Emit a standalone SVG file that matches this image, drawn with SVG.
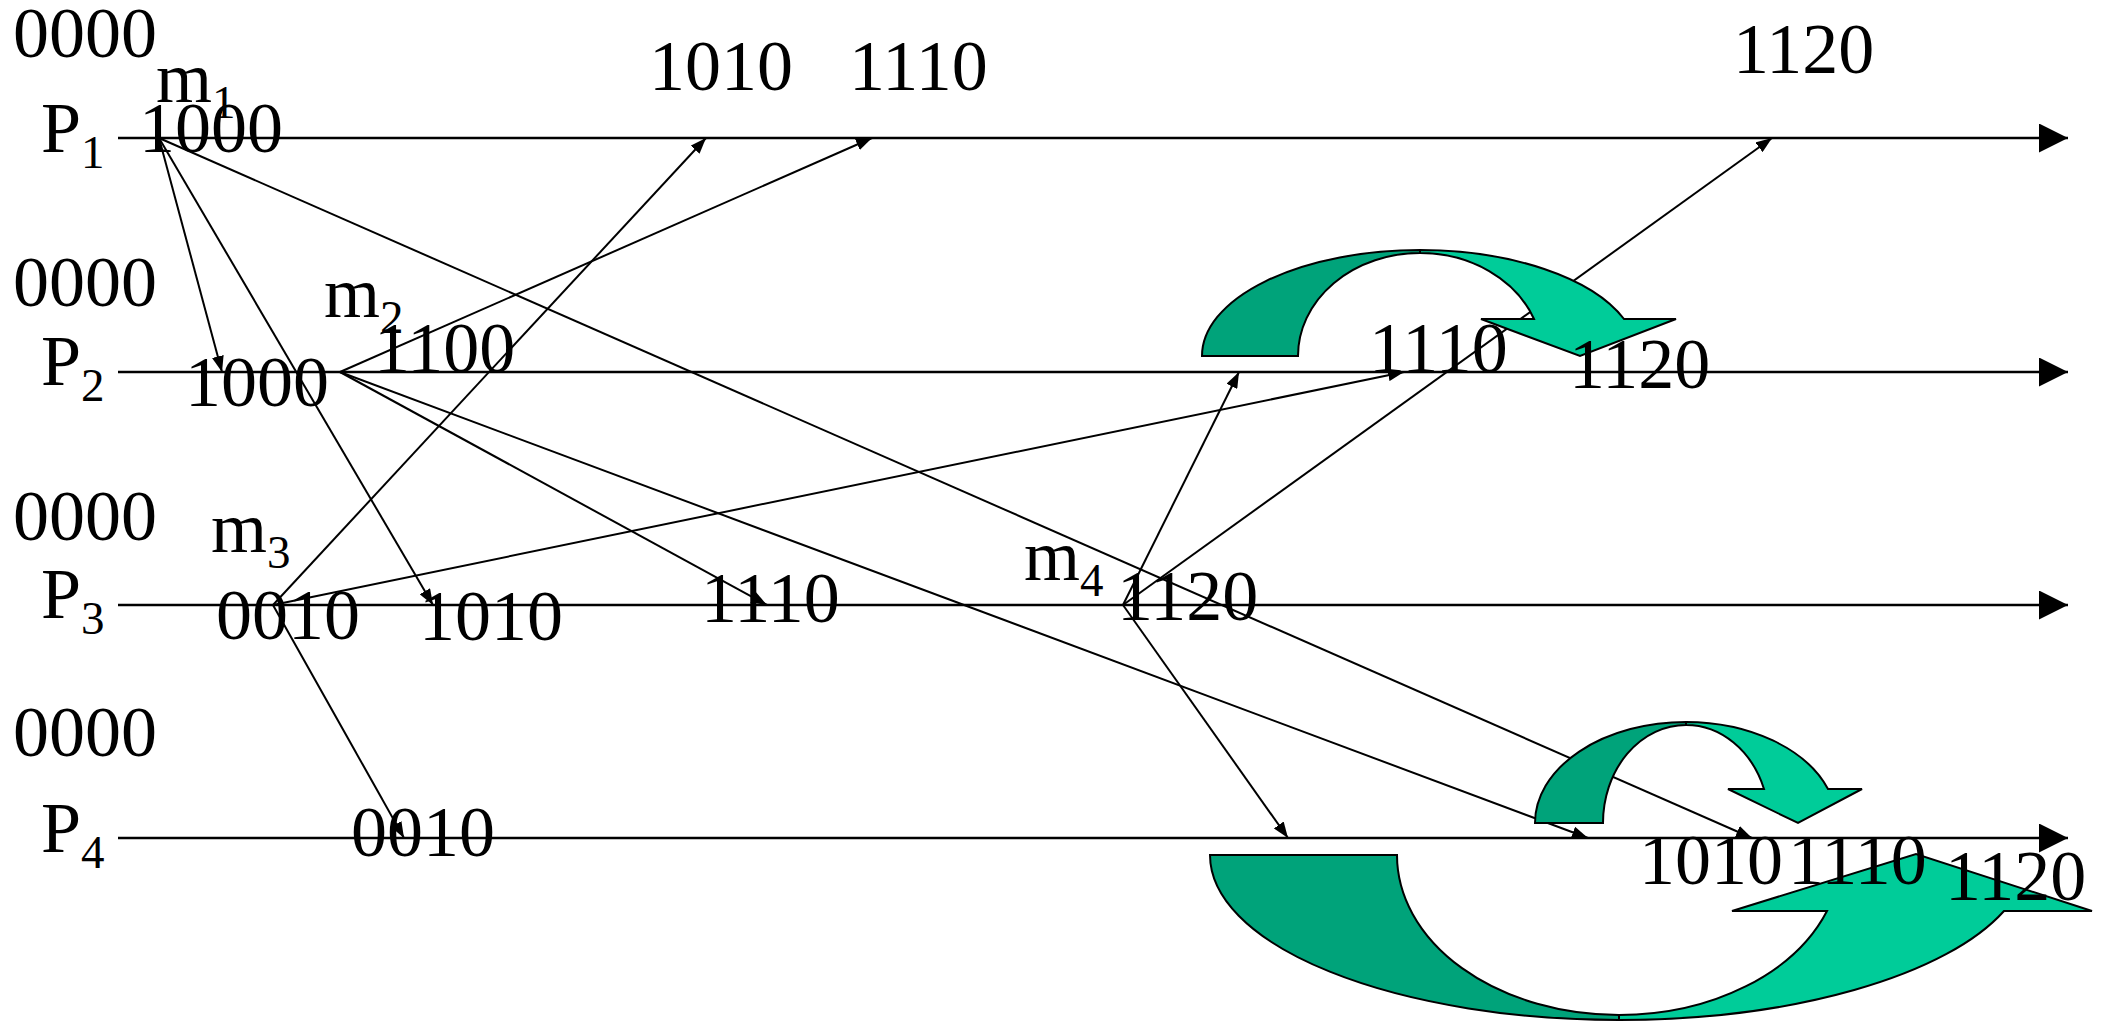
<svg xmlns="http://www.w3.org/2000/svg" width="2107" height="1021" viewBox="0 0 2107 1021">
  <defs>
    <marker id="tl-head" markerUnits="userSpaceOnUse" viewBox="0 0 29 29" markerWidth="29" markerHeight="29" refX="29" refY="14.5" orient="auto">
      <path d="M0,0 L29,14.5 L0,29 Z" fill="#000"/>
    </marker>
    <marker id="msg-head" markerUnits="userSpaceOnUse" viewBox="0 0 16 12" markerWidth="16" markerHeight="12" refX="16" refY="6" orient="auto">
      <path d="M0,0 L16,6 L0,12 Z" fill="#000"/>
    </marker>
    <style>
      .lbl { font-family: "Liberation Serif", "Times New Roman", serif; font-size: 72px; fill: #000; }
      .sub { font-size: 47px; }
      .timeline { stroke: #000; stroke-width: 2.5; fill: none; marker-end: url(#tl-head); }
      .msg { stroke: #000; stroke-width: 2; fill: none; marker-end: url(#msg-head); }
      .band-back { fill: #00A37A; stroke: #000; stroke-width: 2; stroke-linejoin: miter; }
      .band-front { fill: #00CC99; stroke: #000; stroke-width: 2; stroke-linejoin: miter; }
    </style>
  </defs>

  <rect width="2107" height="1021" fill="#fff"/>

  <!-- process timelines -->
  <g id="timelines">
    <line class="timeline" x1="118" y1="138" x2="2068" y2="138"/>
    <line class="timeline" x1="118" y1="372" x2="2068" y2="372"/>
    <line class="timeline" x1="118" y1="605" x2="2068" y2="605"/>
    <line class="timeline" x1="118" y1="838" x2="2068" y2="838"/>
  </g>

  <!-- message connectors -->
  <g id="connectors">
    <!-- m1 from P1 -->
    <line class="msg" x1="159" y1="138" x2="222" y2="372"/>
    <line class="msg" x1="159" y1="138" x2="433" y2="605"/>
    <line class="msg" x1="159" y1="138" x2="1752" y2="838"/>
    <!-- m2 from P2 -->
    <line class="msg" x1="340" y1="372" x2="872" y2="138"/>
    <line class="msg" x1="340" y1="372" x2="767" y2="605"/>
    <line class="msg" x1="340" y1="372" x2="1588" y2="838"/>
    <!-- m3 from P3 -->
    <line class="msg" x1="273" y1="605" x2="706" y2="138"/>
    <line class="msg" x1="273" y1="605" x2="1404" y2="372"/>
    <line class="msg" x1="273" y1="605" x2="404" y2="838"/>
    <!-- m4 from P3 -->
    <line class="msg" x1="1123" y1="605" x2="1239" y2="372"/>
    <line class="msg" x1="1123" y1="605" x2="1772" y2="138"/>
    <line class="msg" x1="1123" y1="605" x2="1288" y2="838"/>
  </g>

  <!-- curved delay arrows -->
  <g id="delay-p2">
    <path class="band-back" d="M1202,356 A218,106 0 0 1 1420,250 L1420,253 A122,103 0 0 0 1298,356 Z"/>
    <path class="band-front" d="M1420,250 A218,106 0 0 1 1624,319 L1676,319 L1580,356 L1481,319 L1534,319 A122,103 0 0 0 1420,253 Z"/>
  </g>
  <g id="delay-p4-upper">
    <path class="band-back" d="M1535,823 A151,101 0 0 1 1686,722 L1686,725 A83,98 0 0 0 1603,823 Z"/>
    <path class="band-front" d="M1686,722 A151,101 0 0 1 1828,789 L1862,789 L1798,823 L1728,789 L1764,789 A83,98 0 0 0 1686,725 Z"/>
  </g>
  <g id="delay-p4-lower">
    <path class="band-back" d="M1210,855 A409,165 0 0 0 1619,1020 L1619,1015 A222,160 0 0 1 1397,855 Z"/>
    <path class="band-front" d="M1619,1020 A409,165 0 0 0 2004,911 L2092,911 L1916,854 L1732,911 L1827,911 A222,160 0 0 1 1619,1015 Z"/>
  </g>

  <!-- process P1 -->
  <g id="p1">
    <text class="lbl" x="13" y="57">0000</text>
    <text class="lbl" x="41" y="152">P<tspan class="sub" dy="16">1</tspan></text>
    <text class="lbl" x="156" y="102">m<tspan class="sub" dy="16">1</tspan></text>
    <text class="lbl" x="139" y="152">1000</text>
    <text class="lbl" x="649" y="90">1010</text>
    <text class="lbl" x="849" y="90">1110</text>
    <text class="lbl" x="1733" y="73">1120</text>
  </g>

  <!-- process P2 -->
  <g id="p2">
    <text class="lbl" x="13" y="306">0000</text>
    <text class="lbl" x="41" y="385">P<tspan class="sub" dy="16">2</tspan></text>
    <text class="lbl" x="324" y="317">m<tspan class="sub" dy="16">2</tspan></text>
    <text class="lbl" x="185" y="406">1000</text>
    <text class="lbl" x="374" y="372">1100</text>
    <text class="lbl" x="1369" y="372">1110</text>
    <text class="lbl" x="1569" y="388">1120</text>
  </g>

  <!-- process P3 -->
  <g id="p3">
    <text class="lbl" x="13" y="540">0000</text>
    <text class="lbl" x="41" y="618">P<tspan class="sub" dy="16">3</tspan></text>
    <text class="lbl" x="211" y="552">m<tspan class="sub" dy="16">3</tspan></text>
    <text class="lbl" x="216" y="639">0010</text>
    <text class="lbl" x="419" y="640">1010</text>
    <text class="lbl" x="701" y="622">1110</text>
    <text class="lbl" x="1024" y="580">m<tspan class="sub" dy="16">4</tspan></text>
    <text class="lbl" x="1117" y="620">1120</text>
  </g>

  <!-- process P4 -->
  <g id="p4">
    <text class="lbl" x="13" y="756">0000</text>
    <text class="lbl" x="41" y="852">P<tspan class="sub" dy="16">4</tspan></text>
    <text class="lbl" x="351" y="856">0010</text>
    <text class="lbl" x="1639" y="884">1010</text>
    <text class="lbl" x="1788" y="884">1110</text>
    <text class="lbl" x="1945" y="900">1120</text>
  </g>
</svg>
